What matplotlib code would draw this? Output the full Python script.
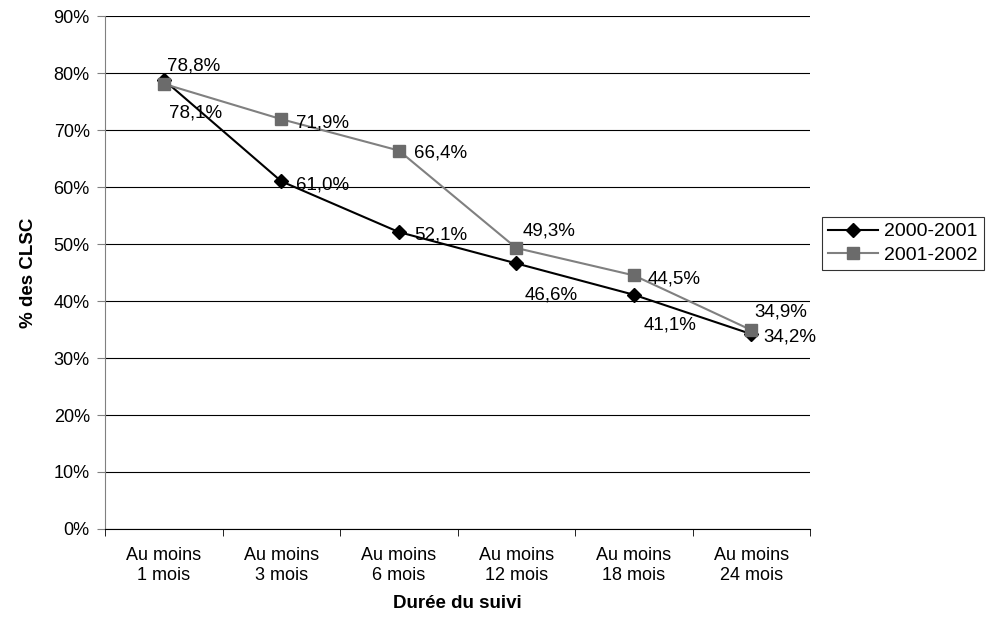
import matplotlib
matplotlib.use('Agg')
import matplotlib.pyplot as plt
from matplotlib.ticker import FuncFormatter, FixedLocator

plt.rcParams['font.family'] = ['Liberation Sans', 'DejaVu Sans']

categories = ['Au moins\n1 mois', 'Au moins\n3 mois', 'Au moins\n6 mois',
              'Au moins\n12 mois', 'Au moins\n18 mois', 'Au moins\n24 mois']
series_names = ['2000-2001', '2001-2002']
values_2000 = [78.8, 61.0, 52.1, 46.6, 41.1, 34.2]
values_2001 = [78.1, 71.9, 66.4, 49.3, 44.5, 34.9]

# label placement in pixels: (dx to text left, dy down to text centre)
offsets_2000 = [(3, -14), (15, 4), (15, 3), (8, 32), (10, 30), (12, 3)]
offsets_2001 = [(5, 29), (15, 4), (15, 2), (6, -17), (14, 4), (3, -18)]


def fmt_pct(v):
    return ('%.1f%%' % v).replace('.', ',')


def main():
    fig = plt.figure(figsize=(9.9, 6.33), dpi=100)
    ax = fig.add_axes([0.1061, 0.1643, 0.7121, 0.8104])

    x = list(range(len(categories)))
    l1, = ax.plot(x, values_2000, color='black', lw=1.5, marker='D',
                  markersize=7, markerfacecolor='black',
                  markeredgecolor='black', zorder=3)
    l2, = ax.plot(x, values_2001, color='#808080', lw=1.5, marker='s',
                  markersize=9, markerfacecolor='#6b6b6b',
                  markeredgecolor='#6b6b6b', zorder=4)

    for vals, offs in ((values_2000, offsets_2000),
                       (values_2001, offsets_2001)):
        for xi, v, (dx, dy) in zip(x, vals, offs):
            ax.annotate(fmt_pct(v), (xi, v), xytext=(dx, -dy),
                        textcoords='offset pixels', ha='left', va='center',
                        fontsize=13.5, color='black', zorder=5)

    ax.set_xlim(-0.5, len(categories) - 0.5)
    ax.set_ylim(0, 90)
    ax.yaxis.set_major_locator(FixedLocator(range(0, 91, 10)))
    ax.yaxis.set_major_formatter(FuncFormatter(lambda v, p: '%d%%' % v))
    ax.grid(axis='y', color='black', lw=0.8)
    ax.set_axisbelow(True)

    ax.set_xticks(x)
    ax.set_xticklabels(categories, fontsize=13, linespacing=1.2)
    ax.set_xticks([i - 0.5 for i in range(len(categories) + 1)], minor=True)
    ax.tick_params(axis='x', which='major', length=0, pad=13)
    ax.tick_params(axis='x', which='minor', length=5, color='black')
    ax.tick_params(axis='y', length=6, color='#808080', labelsize=13, pad=5)

    for side in ('top', 'right'):
        ax.spines[side].set_visible(False)
    ax.spines['left'].set_color('#808080')
    ax.spines['bottom'].set_color('black')

    ax.set_xlabel('Durée du suivi', fontsize=13.5, fontweight='bold',
                  labelpad=8)
    ax.set_ylabel('% des CLSC', fontsize=13.5, fontweight='bold',
                  labelpad=12)

    leg = fig.legend([l1, l2], series_names, loc='upper left',
                     bbox_to_anchor=(822 / 990, 1 - 217 / 633),
                     fontsize=14, frameon=True, fancybox=False,
                     edgecolor='black', handlelength=2.6, borderpad=0.3,
                     labelspacing=0.3, handletextpad=0.3,
                     borderaxespad=0)
    leg.get_frame().set_linewidth(0.8)

    fig.savefig('out.png', dpi=100)


if __name__ == "__main__":
    main()
